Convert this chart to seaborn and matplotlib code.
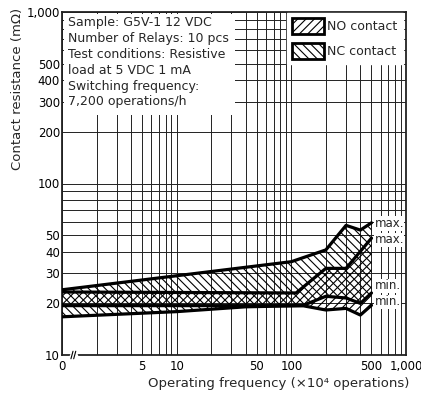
import numpy as np
import pandas as pd
import seaborn as sns
import matplotlib.pyplot as plt
from matplotlib.patches import Patch, Rectangle
from matplotlib.ticker import LogLocator, NullFormatter, FixedLocator, FixedFormatter

# NC contact band (\\\\), x in 10^4 operations ("0" sits at 1 on the log axis)
nc_max_x = [1, 100, 200, 300, 400, 500]
nc_max_y = [24, 35, 41, 57, 53.5, 59]
nc_min_x = [1, 10, 40, 125, 200, 300, 400, 500]
nc_min_y = [16.7, 17.9, 19.1, 19.4, 22, 21.5, 20, 23]

# NO contact band (////)
no_max_x = [1, 110, 200, 300, 500]
no_max_y = [23.3, 23, 32, 32, 48]
no_min_x = [1, 125, 200, 300, 400, 500]
no_min_y = [19.4, 19.4, 18.3, 18.7, 17.1, 19.5]

x_ticks = [1, 5, 10, 50, 100, 500, 1000]
x_labels = ["0", "5", "10", "50", "100", "500", "1,000"]
y_ticks = [10, 20, 30, 40, 50, 100, 200, 300, 400, 500, 1000]
y_labels = ["10", "20", "30", "40", "50", "100", "200", "300", "400", "500", "1,000"]

end_labels = ["max.", "max.", "min.", "min."]
end_label_y = [58.4, 47, 25.3, 20.4]

info_text = ("Sample: G5V-1 12 VDC\nNumber of Relays: 10 pcs\n"
             "Test conditions: Resistive\nload at 5 VDC 1 mA\n"
             "Switching frequency:\n7,200 operations/h")

sns.set_style("white")
plt.rcParams['font.family'] = ['DejaVu Sans']
plt.rcParams['hatch.linewidth'] = 0.8

fig = plt.figure(figsize=(4.21, 4.01), dpi=100)
ax = fig.add_axes([62 / 421, 46 / 401, 344 / 421, 343 / 401])
ax.set_xscale('log')
ax.set_yscale('log')
ax.set_xlim(1, 1000)
ax.set_ylim(10, 1000)


# hatched bands
def band(xt, yt, xb, yb, hatch):
    px = list(xt) + list(xb)[::-1]
    py = list(yt) + list(yb)[::-1]
    ax.fill(px, py, facecolor='none', edgecolor='black', hatch=hatch, lw=0, zorder=3)


band(nc_max_x, nc_max_y, nc_min_x, nc_min_y, '\\\\\\\\')
band(no_max_x, no_max_y, no_min_x, no_min_y, '////')

curves = [(nc_max_x, nc_max_y), (no_max_x, no_max_y), (nc_min_x, nc_min_y), (no_min_x, no_min_y)]
for cx, cy in curves:
    df = pd.DataFrame({"x": cx, "y": cy})
    sns.lineplot(data=df, x="x", y="y", ax=ax, color='black', lw=2.3, zorder=4)

for lab, ly in zip(end_labels, end_label_y):
    ax.text(530, ly, lab, ha='left', va='center', fontsize=8.5, zorder=5,
            bbox=dict(fc='white', ec='none', pad=0.4))

# grid
for axis in (ax.xaxis, ax.yaxis):
    axis.set_minor_locator(LogLocator(base=10, subs=np.arange(2, 10)))
    axis.set_minor_formatter(NullFormatter())
ax.xaxis.set_major_locator(FixedLocator(x_ticks))
ax.xaxis.set_major_formatter(FixedFormatter(x_labels))
ax.yaxis.set_major_locator(FixedLocator(y_ticks))
ax.yaxis.set_major_formatter(FixedFormatter(y_labels))
ax.grid(True, which='both', color='#222222', lw=0.7)
ax.tick_params(which='both', length=0, labelsize=8.5, colors='black')
ax.tick_params(axis='x', pad=3.5)
ax.tick_params(axis='y', pad=1.5)
for s in ax.spines.values():
    s.set_linewidth(1.3)
    s.set_color('#222222')

# info box
ax.add_patch(Rectangle((0.006, 0.70), 0.497, 0.294, transform=ax.transAxes,
                       fc='white', ec='none', zorder=2))
ax.text(0.017, 0.987, info_text, transform=ax.transAxes, ha='left', va='top',
        fontsize=9, linespacing=1.28, zorder=3)

# legend
handles = [Patch(facecolor='white', edgecolor='black', hatch='////', lw=2, label='NO contact'),
           Patch(facecolor='white', edgecolor='black', hatch='\\\\\\\\', lw=2, label='NC contact')]
ax.legend(handles=handles, loc='upper right', bbox_to_anchor=(0.99, 0.997), frameon=True,
          fancybox=False, edgecolor='white', framealpha=1, fontsize=9, handlelength=2.5,
          handleheight=1.65, handletextpad=0.3, labelspacing=0.65, borderpad=0.4, borderaxespad=0)

# axis break mark near 0
ax.plot([0.026, 0.04], [0, 0], transform=ax.transAxes, color='white', lw=2.5, clip_on=False, zorder=6)
for bx in (0.029, 0.037):
    ax.plot([bx - 0.003, bx + 0.003], [-0.011, 0.011], transform=ax.transAxes,
            color='black', lw=0.8, clip_on=False, zorder=7)

ax.set_xlabel("Operating frequency (×10⁴ operations)", fontsize=9.5)
ax.set_ylabel("Contact resistance (mΩ)", fontsize=9.5)
ax.xaxis.set_label_coords(0.631, -0.064)
ax.yaxis.set_label_coords(-0.11, 0.775)

fig.savefig("out.png", dpi=100)
